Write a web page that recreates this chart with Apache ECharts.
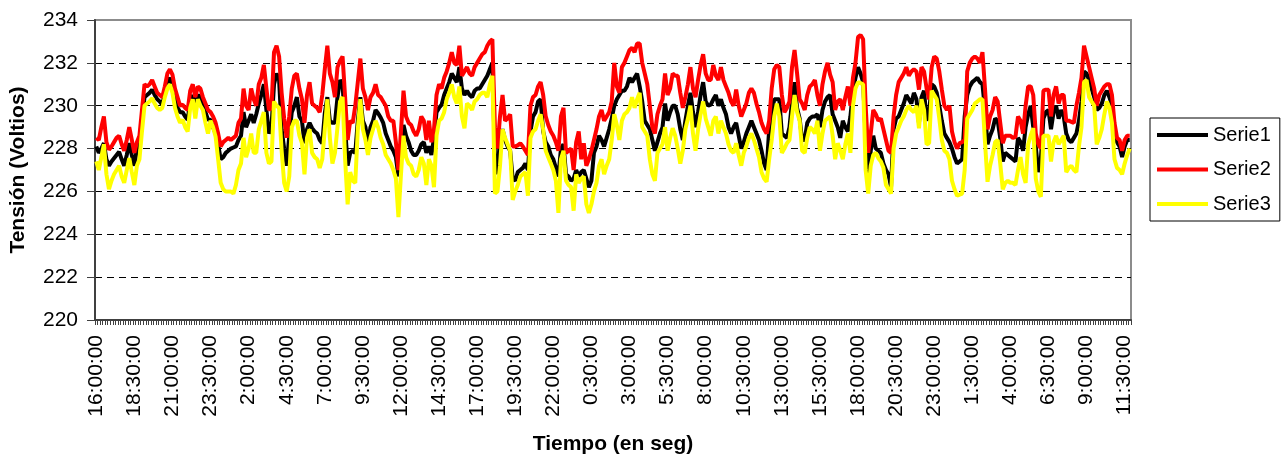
<!DOCTYPE html>
<html>
<head>
<meta charset="utf-8">
<title>Tensión</title>
<script src="https://cdn.jsdelivr.net/npm/echarts@6/dist/echarts.min.js"></script>
<style>
html, body { margin: 0; padding: 0; background: #fff; }
#lineChart { width: 1284px; height: 457px; }
</style>
</head>
<body>
<div id="lineChart"></div>
<script>
// muestras cada 10 minutos desde las 16:00:00
var startMinutes = 16 * 60;
var stepMinutes = 10;
var labelEvery = 15;

var serie1 = [
	228.1, 227.8, 228.0, 228.25, 227.5, 227.2, 227.4, 227.55, 227.7, 227.85, 227.5, 227.2, 227.7, 228.25, 227.7, 227.2, 228.0, 228.4, 229.3, 230.4,
	230.5, 230.6, 230.75, 230.5, 230.3, 230.2, 230.05, 230.6, 231.1, 231.3, 230.9, 230.3, 229.9, 229.7, 229.7, 229.5, 229.35, 230.2, 230.5, 229.8,
	230.5, 230.4, 230.0, 229.7, 229.35, 229.35, 229.0, 228.7, 228.2, 227.5, 227.6, 227.8, 227.9,
	228.0, 228.05, 228.1, 228.4, 228.6, 229.7, 229.0, 229.3, 229.6, 229.2, 229.6, 230.1, 230.5, 231.0, 229.8, 228.7, 229.0, 231.0, 231.5, 231.2,
	228.9, 228.0, 227.2, 228.6, 229.7, 230.0, 230.4, 229.5, 229.3, 228.25, 228.9, 229.2, 228.95, 228.8, 228.7, 228.4, 228.25, 229.65, 230.4, 229.3,
	229.2, 229.2, 230.4, 231.2, 231.0, 229.0, 227.2, 227.8, 227.9, 227.8, 229.3, 230.4, 229.3, 229.0, 228.25, 229.0, 229.3, 229.8, 229.65,
	229.45, 229.2, 228.7, 228.4, 228.1, 227.9, 227.6, 226.7, 228.0, 229.1, 228.6, 228.3, 227.9, 227.7, 227.7, 227.9, 228.2, 228.3, 227.8, 228.1,
	227.7, 228.5, 229.7, 229.9, 230.05, 230.5, 230.8, 231.1, 231.5, 231.3, 231.1, 231.8, 230.8, 230.5, 230.7, 230.5, 230.4, 230.7, 230.8, 230.8,
	231.0, 231.2, 231.4, 231.7, 232.0, 227.6, 226.8, 228.5, 228.9, 228.4, 228.1, 227.9, 226.6, 226.5, 226.9, 227.0, 227.1, 227.3, 227.0, 228.8,
	229.5, 229.7, 230.2, 230.3, 228.8, 228.3, 228.1, 227.7, 227.5, 227.1, 226.7, 228.0, 228.2, 226.8, 226.7, 226.5, 226.6, 227.0, 226.7, 226.9,
	227.0, 226.6, 226.2, 226.5, 227.8, 228.1, 228.6, 228.4, 228.1, 228.5, 228.9, 229.4, 230.0, 230.3, 230.5, 230.7, 230.7, 230.9, 231.3, 231.1,
	231.3, 231.5, 230.9, 230.2, 229.3, 229.1, 228.9, 228.4, 227.9, 228.3, 228.7, 229.0, 230.1, 229.3, 229.7, 230.0, 230.0, 229.6, 228.9,
	228.4, 229.3, 230.0, 230.6, 229.7, 229.0, 229.7, 230.5, 231.1, 230.2, 230.0, 230.05, 230.3, 230.5, 230.0, 230.3, 229.9, 229.6, 229.0, 228.7,
	229.0, 229.2, 228.6, 228.0, 228.3, 228.7, 229.0, 229.3, 229.0, 228.7, 228.4, 227.9, 227.3, 227.0, 228.9, 229.6, 230.3, 230.3, 230.3, 228.7,
	228.6, 228.5, 229.0, 230.2, 231.1, 229.9, 229.4, 228.4, 228.4, 229.2, 229.4, 229.5, 229.5, 229.6, 229.0, 229.8, 230.2, 230.4, 230.5,
	229.6, 229.3, 229.0, 228.5, 229.3, 229.0, 228.8, 229.5, 230.7, 231.3, 231.8, 231.5, 231.1, 228.5, 226.5, 227.9, 228.6, 228.0, 227.9, 227.8,
	227.3, 227.0, 226.8, 226.2, 228.9, 229.4, 229.5, 229.8, 230.1, 230.5, 230.3, 230.1, 230.6, 230.3, 229.2, 230.4, 230.7, 229.3, 229.7, 231.0,
	230.9, 230.6, 230.0, 229.3, 228.7, 228.5, 228.3, 228.0, 227.6, 227.3, 227.4, 227.5, 229.5, 230.5, 230.9, 231.1, 231.2, 231.3, 231.1,
	231.0, 229.8, 228.2, 228.6, 228.9, 229.4, 229.3, 228.5, 227.4, 227.8, 227.7, 227.6, 227.5, 227.4, 228.5, 228.3, 227.9, 229.0, 229.6, 230.0,
	229.0, 228.1, 226.9, 227.5, 229.4, 229.7, 229.8, 228.9, 229.7, 230.0, 229.4, 229.8, 229.5, 228.7, 228.4, 228.3, 228.5, 228.7, 229.3, 230.2,
	231.6, 231.5, 231.2, 230.8, 230.4, 229.8, 229.9, 230.1, 230.5, 230.7, 230.4, 230.0, 228.8, 228.3, 228.1, 227.6, 228.1, 228.4, 228.4
];

var serie2 = [
	228.5, 228.4, 229.0, 229.5, 228.3, 227.95, 228.1, 228.3, 228.5, 228.6, 228.2, 227.9, 228.4, 229.0, 228.4, 227.8, 228.3, 228.6, 229.8, 231.0,
	230.9, 231.0, 231.2, 230.9, 230.6, 230.5, 230.4, 230.9, 231.5, 231.7, 231.45, 230.8, 230.4, 230.0, 230.05, 229.9, 229.8, 230.7, 231.0, 230.4,
	230.9, 230.8, 230.4, 230.1, 229.8, 229.7, 229.5, 229.2, 228.7, 228.1, 228.3, 228.4, 228.5,
	228.4, 228.5, 228.6, 229.2, 229.4, 230.8, 230.0, 229.8, 230.8, 230.3, 230.0, 231.0, 231.3, 231.9, 230.8, 229.8, 229.9, 232.5, 232.8, 232.3,
	230.6, 229.4, 228.5, 229.5, 230.8, 231.4, 231.5, 230.8, 230.3, 229.2, 230.5, 231.1, 230.1, 230.0, 229.9, 229.7, 230.5, 231.7, 232.8, 231.5,
	231.1, 230.4, 231.8, 232.1, 232.3, 230.4, 228.4, 229.3, 229.2, 230.0, 231.1, 232.2, 230.8, 230.4, 229.8, 230.4, 230.6, 231.0, 230.5,
	230.4, 230.2, 230.0, 229.5, 229.3, 229.3, 228.3, 227.0, 228.8, 230.7, 229.5, 229.2, 229.1, 228.8, 228.6, 228.9, 229.5, 229.3, 228.4, 229.3,
	228.3, 228.9, 230.5, 231.0, 230.8, 231.3, 231.6, 232.0, 232.5, 232.0, 231.9, 232.8, 231.4, 231.6, 231.8, 231.5, 231.4, 231.8, 232.0, 232.2,
	232.4, 232.5, 232.8, 233.0, 233.1, 229.0, 228.0, 229.5, 230.5, 229.3, 229.4, 229.6, 228.1, 228.1, 228.15, 228.25, 228.1, 227.9, 227.7, 230.0,
	230.4, 230.5, 230.9, 231.1, 230.5, 229.5, 229.1, 228.8, 228.6, 228.3, 227.9, 229.5, 229.9, 227.8, 227.9, 228.0, 227.0, 228.3, 228.8, 227.5,
	228.25, 227.2, 227.5, 227.9, 228.4, 228.9, 229.5, 229.8, 229.3, 229.5, 229.7, 230.2, 232.0, 230.9, 230.6, 231.8, 232.0, 232.3, 232.6, 232.7,
	232.5, 232.9, 232.9, 232.0, 231.5, 231.0, 230.0, 229.0, 228.7, 229.6, 230.0, 230.3, 231.5, 230.5, 230.8, 231.5, 231.4, 231.4, 230.6,
	229.9, 230.4, 231.0, 231.8, 230.8, 230.4, 231.2, 231.9, 232.4, 231.5, 231.2, 231.2, 231.9, 231.4, 231.2, 231.8, 231.2, 230.9, 230.6, 230.2,
	230.0, 230.75, 230.0, 229.5, 229.8, 230.1, 230.6, 230.8, 230.6, 230.1, 229.7, 229.2, 228.9, 228.7, 229.3, 230.8, 231.7, 231.9, 231.8, 230.5,
	229.7, 229.9, 230.2, 231.8, 232.6, 231.5, 230.3, 230.1, 229.8, 230.5, 230.9, 231.0, 231.2, 230.5, 230.0, 231.0, 231.6, 232.0, 231.45,
	231.1, 229.8, 230.2, 230.3, 229.8, 230.4, 230.9, 230.0, 231.3, 232.0, 233.2, 233.3, 233.1, 230.0, 227.8, 228.7, 229.8, 229.6, 229.3, 229.4,
	228.9, 228.4, 227.9, 227.8, 229.5, 230.5, 231.1, 231.3, 231.5, 231.8, 231.4, 231.6, 231.7, 231.6, 230.75, 231.8, 231.6, 230.8, 230.3, 231.8,
	232.3, 232.2, 231.6, 230.75, 230.0, 229.8, 230.0, 228.8, 228.3, 228.0, 228.25, 228.3, 228.4, 231.6, 232.0, 232.2, 232.3, 232.2, 232.0,
	232.5, 230.8, 228.9, 229.5, 229.8, 230.4, 230.2, 229.2, 228.25, 228.6, 228.6, 228.6, 228.5, 228.55, 229.5, 229.3, 228.7, 230.0, 230.9, 230.9,
	230.5, 228.7, 228.2, 228.0, 230.7, 230.75, 230.75, 229.5, 230.5, 230.9, 230.1, 230.5, 230.5, 229.3, 229.3, 229.25, 229.2, 230.0, 230.6, 231.3,
	232.8, 232.3, 231.8, 231.3, 230.8, 230.0, 230.5, 230.7, 230.9, 231.0, 231.0, 230.5, 229.2, 228.5, 228.4, 227.9, 228.4, 228.6, 228.6
];

var serie3 = [
	227.4, 227.0, 227.6, 228.2, 226.8, 226.1, 226.5, 226.8, 227.0, 227.2, 226.7, 226.4, 227.0, 227.55, 226.9, 226.3, 227.2, 227.5, 228.8, 230.0,
	230.1, 230.2, 230.35, 230.1, 229.9, 229.8, 229.9, 230.4, 230.8, 231.0, 230.6, 229.9, 229.5, 229.2, 229.35, 229.0, 228.8, 229.9, 230.3, 229.4,
	230.3, 230.0, 229.8, 229.2, 228.7, 229.3, 229.0, 228.55, 227.5, 226.4, 226.1, 226.0, 226.0,
	226.0, 225.9, 226.3, 227.0, 227.3, 228.5, 227.6, 228.0, 228.7, 227.8, 227.8, 228.9, 229.3, 229.7, 227.8, 227.3, 227.4, 230.2, 230.0, 229.9,
	227.9, 226.4, 226.0, 226.7, 229.0, 229.3, 229.3, 228.6, 228.25, 226.8, 228.5, 228.9, 227.8, 227.6, 227.5, 227.1, 227.5, 228.9, 230.3, 228.5,
	227.3, 227.8, 229.0, 230.2, 230.4, 227.5, 225.4, 226.9, 226.5, 226.4, 228.9, 230.3, 228.9, 228.4, 227.7, 228.5, 228.9, 229.3, 229.0,
	228.5, 228.2, 227.7, 227.5, 227.3, 227.0, 226.6, 224.8, 226.8, 228.6, 227.6, 227.3, 227.2, 226.8, 226.7, 227.0, 227.6, 227.3, 226.3, 227.5,
	227.2, 226.2, 228.6, 229.3, 229.4, 229.7, 230.3, 230.6, 231.0, 230.4, 230.1, 230.9, 229.5, 228.95, 230.1, 230.0, 229.8, 230.2, 230.3, 230.5,
	230.6, 230.6, 230.4, 231.0, 231.4, 225.9, 226.0, 227.2, 228.9, 228.5, 228.2, 227.9, 225.6, 226.0, 226.3, 226.7, 226.8, 226.9, 225.8, 228.5,
	228.8, 228.9, 229.3, 229.6, 228.9, 227.9, 227.6, 227.3, 227.0, 226.5, 225.0, 227.5, 227.9, 226.5, 226.3, 226.2, 225.1, 226.8, 226.4, 226.6,
	226.7, 225.4, 225.0, 225.4, 226.0, 226.4, 227.2, 227.5, 226.8, 227.2, 227.5, 228.4, 229.6, 229.1, 228.4, 229.3, 229.6, 229.7, 229.9, 230.4,
	229.9, 230.3, 230.6, 229.0, 228.8, 228.6, 227.5, 226.8, 226.5, 227.8, 228.0, 228.2, 229.0, 227.9, 228.5, 228.95, 228.6, 228.0, 227.3,
	227.9, 228.9, 229.4, 230.0, 228.7, 227.9, 228.9, 229.6, 230.2, 229.4, 229.0, 228.6, 229.3, 229.5, 228.7, 229.3, 229.0, 228.7, 228.2, 227.9,
	227.8, 228.25, 227.7, 227.2, 227.8, 228.1, 228.5, 228.7, 228.4, 228.0, 227.6, 226.9, 226.6, 226.45, 227.5, 228.4, 229.5, 230.1, 229.5, 227.8,
	228.0, 228.25, 228.4, 229.5, 230.5, 229.7, 229.3, 227.9, 227.8, 228.5, 229.0, 228.9, 228.7, 229.3, 227.9, 228.7, 229.3, 229.4, 229.5,
	228.6, 227.5, 228.25, 227.9, 227.5, 228.2, 228.7, 227.8, 230.0, 230.8, 231.1, 231.05, 231.0, 227.0, 225.9, 227.2, 227.7, 227.8, 227.55, 227.4,
	227.1, 226.3, 226.1, 225.9, 228.0, 228.7, 229.0, 229.3, 229.5, 229.8, 230.0, 229.8, 229.7, 230.0, 228.95, 230.3, 229.8, 228.2, 228.25, 230.7,
	230.5, 230.3, 229.4, 228.4, 227.9, 227.8, 227.5, 226.5, 226.1, 225.8, 225.85, 225.9, 227.0, 229.4, 229.6, 229.8, 230.1, 230.2, 230.3,
	230.3, 228.3, 226.45, 227.2, 227.7, 228.3, 228.4, 227.3, 226.1, 226.4, 226.5, 226.4, 226.4, 226.3, 227.0, 227.6, 226.8, 226.4, 228.2, 228.6,
	228.95, 226.6, 226.0, 225.75, 228.6, 228.6, 228.6, 227.4, 228.3, 228.6, 228.2, 228.4, 228.6, 226.9, 227.1, 227.2, 227.0, 226.9, 228.1, 229.0,
	231.1, 231.2, 230.4, 230.2, 230.0, 228.2, 228.5, 228.9, 229.6, 230.2, 229.9, 229.2, 227.5, 227.1, 227.0, 226.8, 227.3, 227.7, 228.0
];

var seriesNames = ['Serie1', 'Serie2', 'Serie3'];
var seriesColors = ['#000000', '#ff0000', '#ffff00'];
var yTicks = [220, 222, 224, 226, 228, 230, 232, 234];

var fontFamily = '"Liberation Sans", Arial, sans-serif';

function timeLabels(count) {
	var list = [];
	for (var i = 0; i < count; i++) {
		var m = (startMinutes + i * stepMinutes) % 1440;
		var mm = m % 60;
		list.push(Math.floor(m / 60) + ':' + (mm < 10 ? '0' + mm : mm) + ':00');
	}
	return list;
}

function lineChart() {
	var myChart = echarts.init(document.getElementById('lineChart'), null, { renderer: 'canvas' });
	var categories = timeLabels(serie1.length);
	var values = [serie1, serie2, serie3];

	// la ultima linea (234) la tapa el borde gris del area
	var gridColors = yTicks.map(function(v, i) {
		return i === yTicks.length - 1 ? 'rgba(0,0,0,0)' : '#000000';
	});

	var series = [];
	for (var i = 0; i < values.length; i++) {
		series.push({
			name: seriesNames[i],
			type: 'line',
			data: values[i],
			showSymbol: false,
			symbol: 'none',
			color: seriesColors[i],
			lineStyle: { width: 4, color: seriesColors[i] }
		});
	}

	var option = {
		animation: false,
		backgroundColor: '#ffffff',
		grid: {
			left: 95,
			right: 153,
			top: 20,
			bottom: 137,
			outerBoundsMode: 'none',
			show: true,
			backgroundColor: '#ffffff',
			borderColor: '#8c8c8c',
			borderWidth: 2
		},
		legend: {
			orient: 'vertical',
			left: 1150,
			top: 118,
			padding: [5, 9, 5, 7],
			itemGap: 10.5,
			itemWidth: 51,
			itemHeight: 4,
			icon: 'rect',
			borderColor: '#000000',
			borderWidth: 1,
			data: seriesNames,
			textStyle: { fontSize: 20, lineHeight: 24, color: '#000000', fontFamily: fontFamily }
		},
		xAxis: {
			type: 'category',
			data: categories,
			boundaryGap: true,
			name: 'Tiempo (en seg)',
			nameLocation: 'middle',
			nameGap: 114,
			nameTextStyle: { fontSize: 21, fontWeight: 'bold', color: '#000000', fontFamily: fontFamily },
			axisLine: { lineStyle: { color: '#404040', width: 2 } },
			axisTick: { show: true, interval: 0, length: 5, lineStyle: { color: '#404040', width: 1 } },
			axisLabel: {
				interval: labelEvery - 1,
				rotate: 90,
				margin: 15,
				fontSize: 21,
				color: '#000000',
				fontFamily: fontFamily
			},
			splitLine: { show: false }
		},
		yAxis: {
			type: 'value',
			min: yTicks[0],
			max: yTicks[yTicks.length - 1],
			interval: 2,
			name: 'Tensión (Voltios)',
			nameLocation: 'middle',
			nameRotate: 90,
			nameGap: 66,
			nameTextStyle: { fontSize: 21, fontWeight: 'bold', color: '#000000', fontFamily: fontFamily },
			axisLine: { show: true, lineStyle: { color: '#404040', width: 2 } },
			axisTick: { show: true, length: 8, lineStyle: { color: '#404040', width: 1 } },
			axisLabel: { margin: 17, fontSize: 21, color: '#000000', fontFamily: fontFamily },
			splitLine: { show: true, lineStyle: { type: [7, 5], color: gridColors, width: 1 } }
		},
		series: series
	};
	myChart.setOption(option);
}

lineChart();
</script>
</body>
</html>
